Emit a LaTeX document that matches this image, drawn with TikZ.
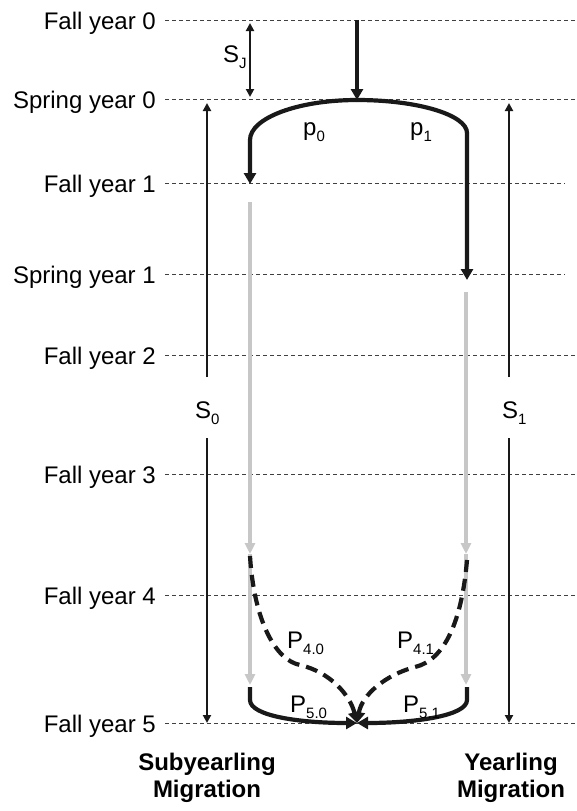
\documentclass[tikz,border=0pt]{standalone}
\usepackage{fontspec}
\setmainfont{Liberation Sans}
\usetikzlibrary{arrows.meta}
\newcommand\lsub[1]{\raisebox{-6pt}{\fontsize{15}{15}\selectfont #1}}
\begin{document}
\begin{tikzpicture}[x=1pt,y=-1pt,
  lab/.style={font=\fontsize{24}{28}\selectfont, inner sep=0pt},
  rowlab/.style={lab, anchor=base east},
  gridline/.style={line width=0.9pt, draw=black!75, dash pattern=on 4pt off 3pt},
  thickarr/.style={line width=4.2pt, draw=black!90, -{Triangle[length=11pt,width=12pt]}},
  sarr/.style={line width=2.3pt, draw=black!90, -{Triangle[length=8pt,width=8pt]}},
  grayarr/.style={line width=3.5pt, draw=black!22, -{Triangle[length=11pt,width=10pt]}},
  dasharr/.style={line width=4.2pt, draw=black!90, dash pattern=on 12pt off 7pt, -{Triangle[length=11pt,width=12pt]}},
  bottomlab/.style={font=\bfseries\fontsize{24}{27}\selectfont, align=center, inner sep=0pt, anchor=north}
]
\useasboundingbox (0,0) rectangle (577,811);

% row labels and grid lines
\foreach \name/\txt/\y/\xe in {r0/Fall year 0/20/577, r1/Spring year 0/99/577, r2/Fall year 1/183/565,
  r3/Spring year 1/274/565, r4/Fall year 2/355/577, r5/Fall year 3/474/577, r6/Fall year 4/595/577, r7/Fall year 5/723/577}{
  \node[rowlab] (\name) at (156,\y+9.5) {\txt};
  \coordinate (\name a) at (165,\y);
  \coordinate (\name b) at (\xe,\y);
  \draw[gridline] (\name a) -- (\name b);
}

% S_J
\coordinate (sjtop) at (250,23);
\coordinate (sjbot) at (250,97);
\draw[sarr, {Triangle[length=8pt,width=8pt]}-{Triangle[length=8pt,width=8pt]}] (sjtop) -- (sjbot);
\node[lab, anchor=base west] (sj) at (223,62) {S\lsub{J}};

% entry arrow
\coordinate (top) at (357,20);
\coordinate (split) at (357,100);
\draw[thickarr] (top) -- (split);

% branches
\coordinate (lcorner) at (250,140);
\coordinate (ltip) at (250,184);
\coordinate (rcorner) at (467,133);
\coordinate (rtip) at (467,280);
\draw[thickarr] (split) .. controls (298,100) and (250,118) .. (lcorner) -- (ltip);
\draw[thickarr] (split) .. controls (418,100) and (467,115) .. (rcorner) -- (rtip);
\node[lab, anchor=base west] (p0) at (303,135) {p\lsub{0}};
\node[lab, anchor=base west] (p1) at (410,135) {p\lsub{1}};

% S_0 and S_1
\node[lab, anchor=base west] (s0) at (195,418) {S\lsub{0}};
\node[lab, anchor=base west] (s1) at (502,418) {S\lsub{1}};
\coordinate (s0top) at (207,103);
\coordinate (s0up) at (207,377);
\coordinate (s0dn) at (207,438);
\coordinate (s0bot) at (207,723);
\draw[sarr] (s0up) -- (s0top);
\draw[sarr] (s0dn) -- (s0bot);
\coordinate (s1top) at (509,103);
\coordinate (s1up) at (509,377);
\coordinate (s1dn) at (509,438);
\coordinate (s1bot) at (509,723);
\draw[sarr] (s1up) -- (s1top);
\draw[sarr] (s1dn) -- (s1bot);

% gray arrows
\coordinate (lg0) at (250,202);
\coordinate (lg1) at (250,554);
\coordinate (lg2) at (250,685);
\coordinate (rg0) at (466,292);
\coordinate (rg1) at (466,554);
\coordinate (rg2) at (466,685);
\draw[grayarr] (lg0) -- (lg1);
\draw[grayarr] (lg1) -- (lg2);
\draw[grayarr] (rg0) -- (rg1);
\draw[grayarr] (rg1) -- (rg2);

% final converging arrows
\coordinate (meet) at (357,723);
\coordinate (lb0) at (250,687);
\coordinate (lb1) at (250,700);
\coordinate (rb0) at (467,687);
\coordinate (rb1) at (467,700);
\draw[thickarr] (lb0) -- (lb1) .. controls (250,716) and (300,723) .. (meet);
\draw[thickarr] (rb0) -- (rb1) .. controls (467,716) and (414,723) .. (meet);
\coordinate (ld0) at (250,556);
\coordinate (rd0) at (467,560);
\draw[dasharr] (ld0) .. controls (254,620) and (275,660) .. (300,665) .. controls (330,672) and (350,695) .. (meet);
\draw[dasharr] (rd0) .. controls (462,620) and (445,660) .. (415,667) .. controls (385,675) and (362,695) .. (meet);

\node[lab, anchor=base west] (p40) at (287,648) {P\lsub{4.0}};
\node[lab, anchor=base west] (p41) at (397,648) {P\lsub{4.1}};
\node[lab, anchor=base west] (p50) at (290,712) {P\lsub{5.0}};
\node[lab, anchor=base west] (p51) at (403,712) {P\lsub{5.1}};

% bottom labels
\node[bottomlab] (sub) at (207,753) {Subyearling\\Migration};
\node[bottomlab] (yr) at (511,753) {Yearling\\Migration};
\end{tikzpicture}
\end{document}
